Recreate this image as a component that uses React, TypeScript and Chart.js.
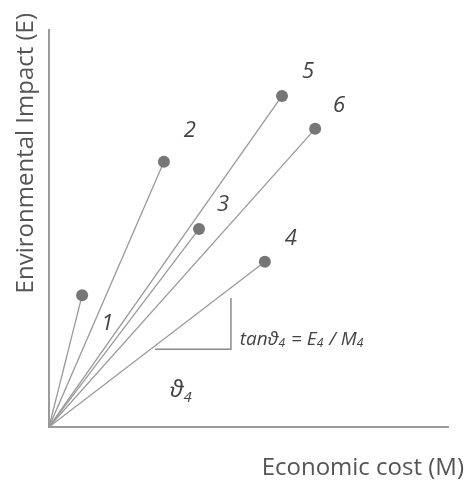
import React, { useEffect, useRef } from "react";
import { Chart, registerables } from "chart.js";

Chart.register(...registerables);

const labels = ["1", "2", "3", "4", "5", "6"];
const costM = [8.3, 28.8, 37.6, 54.1, 58.4, 66.7];
const impactE = [33.2, 66.8, 49.9, 41.6, 83.4, 75.1];
// label centre offsets in data units from each point
const labelDx = [6.3, 6.5, 6.0, 6.5, 6.5, 6.0];
const labelDy = [-6.8, 8.3, 6.5, 6.3, 6.5, 6.3];
const triangleX = [26.6, 45.6, 45.6];
const triangleY = [19.6, 19.6, 32.5];
const xTitle = "Economic cost (M)";
const yTitle = "Environmental Impact (E)";

const LINE = "#9a9a9a";
const DOT = "#767676";
const TEXT = "#444";

const annotations = {
  id: "annotations",
  afterDatasetsDraw(chart: any) {
    const { ctx, scales, chartArea } = chart;
    const xs = scales.x;
    const ys = scales.y;
    ctx.save();
    ctx.fillStyle = TEXT;
    ctx.textBaseline = "alphabetic";
    // point labels
    const ls = 22;
    ctx.font = `italic ${ls}px 'Open Sans'`;
    ctx.textAlign = "center";
    labels.forEach((l, i) => {
      const px = xs.getPixelForValue(costM[i] + labelDx[i]);
      const py = ys.getPixelForValue(impactE[i] + labelDy[i]);
      ctx.fillText(l, px, py + ls * 0.36);
    });
    // formula
    let x = xs.getPixelForValue(47.8);
    const base = ys.getPixelForValue(20.6);
    ctx.textAlign = "left";
    const big = "italic 19px 'Open Sans'";
    const small = "italic 12px 'Open Sans'";
    const parts: [string, boolean][] = [
      ["tan\u03D1", false], ["4", true], [" = E", false], ["4", true], [" / M", false], ["4", true],
    ];
    parts.forEach(([t, sub]) => {
      ctx.font = sub ? small : big;
      ctx.fillText(t, x, sub ? base + 2 : base);
      x += ctx.measureText(t).width + (sub ? 1 : 0);
    });
    // theta label
    const tx = xs.getPixelForValue(30.3);
    const ty = ys.getPixelForValue(7.6);
    ctx.font = "italic 24px 'Open Sans'";
    ctx.fillText("\u03D1", tx, ty);
    const tw = ctx.measureText("\u03D1").width;
    ctx.font = "italic 15px 'Open Sans'";
    ctx.fillText("4", tx + tw, ty + 5);
    // axis titles
    ctx.fillStyle = "#555";
    ctx.font = "24px 'Open Sans'";
    ctx.textAlign = "right";
    ctx.fillText(xTitle, chart.width, chartArea.bottom + 48);
    ctx.save();
    ctx.translate(33, chartArea.top - 17);
    ctx.rotate(-Math.PI / 2);
    ctx.textAlign = "right";
    ctx.fillText(yTitle, 0, 0);
    ctx.restore();
    ctx.restore();
  },
};

export default function App() {
  const ref = useRef<HTMLCanvasElement>(null);
  useEffect(() => {
    if (!ref.current) return;
    const datasets: any[] = labels.map((l, i) => ({
      label: l,
      data: [
        { x: 0, y: 0 },
        { x: costM[i], y: impactE[i] },
      ],
      showLine: true,
      borderColor: LINE,
      borderWidth: 1.3,
      pointRadius: [0, 6],
      pointBackgroundColor: DOT,
      pointBorderWidth: 0,
    }));
    datasets.push({
      label: "slope",
      data: triangleX.map((x, i) => ({ x, y: triangleY[i] })),
      showLine: true,
      borderColor: "#8a8a8a",
      borderWidth: 1.5,
      pointRadius: 0,
    });
    const chart = new Chart(ref.current, {
      type: "scatter",
      data: { datasets },
      options: {
        animation: false,
        responsive: false,
        events: [],
        layout: { padding: { left: 49, top: 30, right: 16, bottom: 55 } },
        plugins: { legend: { display: false }, tooltip: { enabled: false } },
        scales: {
          x: {
            type: "linear",
            min: 0,
            max: 100,
            grid: { display: false, drawTicks: false },
            border: { display: true, color: "#9a9a9a", width: 2 },
            ticks: { display: false },
          },
          y: {
            type: "linear",
            min: 0,
            max: 100,
            grid: { display: false, drawTicks: false },
            border: { display: true, color: "#9a9a9a", width: 2 },
            ticks: { display: false },
          },
        },
      },
      plugins: [annotations],
    });
    return () => chart.destroy();
  }, []);
  return (
    <div style={{ position: "fixed", left: 0, top: 0, width: 464, height: 482, background: "#fff" }}>
      <canvas ref={ref} width={464} height={482} style={{ width: 464, height: 482 }} />
    </div>
  );
}
